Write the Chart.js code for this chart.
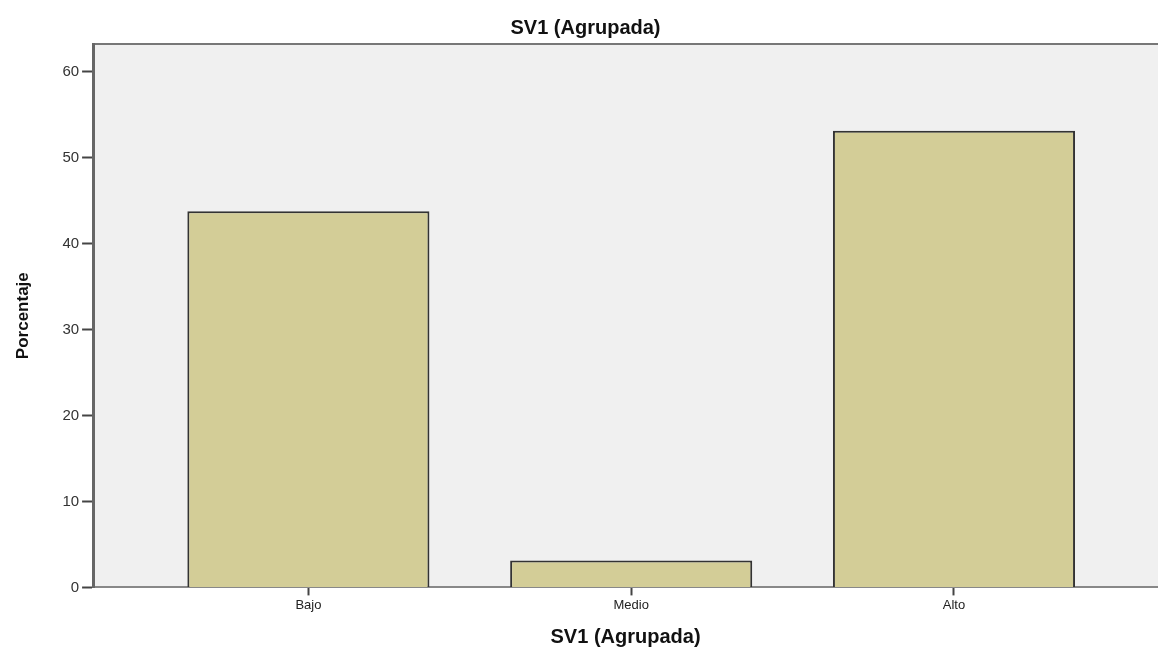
<!DOCTYPE html>
<html>
<head>
<meta charset="utf-8">
<script src="https://cdn.jsdelivr.net/npm/chart.js@4.4.0/dist/chart.umd.min.js"></script>
<style>
  html, body { margin: 0; padding: 0; background: #fff; overflow: hidden; }
</style>
</head>
<body>
<canvas id="myChart" width="1158" height="649"></canvas>
<script>
// categories + percentages (SPSS frequency bar chart)
const categorias = ['Bajo', 'Medio', 'Alto'];
const porcentajes = [43.75, 3.125, 53.125];
const yTicks = [0, 10, 20, 30, 40, 50, 60];

// frame + grey plot background like SPSS
const plotFrame = {
    id: 'plotFrame',
    beforeDraw(chart) {
        const a = chart.chartArea;
        const c = chart.ctx;
        c.save();
        c.fillStyle = '#f0f0f0';
        c.fillRect(a.left, a.top, a.right - a.left, a.bottom - a.top);
        c.strokeStyle = '#777';
        c.lineWidth = 2;
        c.beginPath();
        c.moveTo(a.left, a.top);
        c.lineTo(a.right + 2, a.top);
        c.stroke();
        c.restore();
    }
};

function makechart(docID, labels, data){
    const ctx = document.getElementById(docID);
    const points = data.map((v, i) => ({x: i, y: v}));

    const myChart = new Chart(ctx, {
        type: 'bar',
        data: {
            datasets: [{
                label: 'Porcentaje',
                data: points,
                backgroundColor: '#d3cd97',
                borderColor: '#333',
                borderWidth: 2,
                categoryPercentage: 1,
                barPercentage: 0.75
            }]
        },
        options: {
            responsive: false,
            animation: false,
            layout: { padding: { top: 16, left: 13, right: 0, bottom: 0 } },
            plugins: {
                legend: { display: false },
                tooltip: { enabled: false },
                title: {
                    display: true,
                    text: 'SV1 (Agrupada)',
                    color: '#111',
                    font: { family: 'Liberation Sans', size: 20, weight: 'bold' },
                    padding: { top: 0, bottom: 4 }
                }
            },
            scales: {
                x: {
                    type: 'linear',
                    min: -0.667,
                    max: 2.632,
                    offset: false,
                    afterBuildTicks: (s) => { s.ticks = labels.map((l, i) => ({value: i})); },
                    ticks: {
                        callback: (v) => labels[v],
                        color: '#222',
                        font: { family: 'Liberation Sans', size: 13 },
                        padding: 2,
                        maxRotation: 0
                    },
                    grid: { offset: false, drawOnChartArea: false, tickLength: 8, tickColor: '#444', tickWidth: 2 },
                    border: { color: '#888', width: 2 },
                    title: {
                        display: true,
                        text: 'SV1 (Agrupada)',
                        color: '#111',
                        font: { family: 'Liberation Sans', size: 20, weight: 'bold' },
                        padding: { top: 10, bottom: 0 }
                    }
                },
                y: {
                    min: 0,
                    max: 63.2,
                    afterBuildTicks: (s) => { s.ticks = yTicks.map(v => ({value: v})); },
                    ticks: {
                        color: '#333',
                        font: { family: 'Liberation Sans', size: 15 },
                        padding: 3
                    },
                    grid: { drawOnChartArea: false, tickLength: 11, tickColor: '#444', tickWidth: 2 },
                    border: { color: '#666', width: 3 },
                    title: {
                        display: true,
                        text: 'Porcentaje',
                        color: '#111',
                        font: { family: 'Liberation Sans Narrow, Liberation Sans', size: 17, weight: 'bold' },
                        padding: { top: 0, bottom: 26 }
                    }
                }
            }
        },
        plugins: [plotFrame]
    });
    return myChart;
}

makechart('myChart', categorias, porcentajes)
</script>
</body>
</html>
